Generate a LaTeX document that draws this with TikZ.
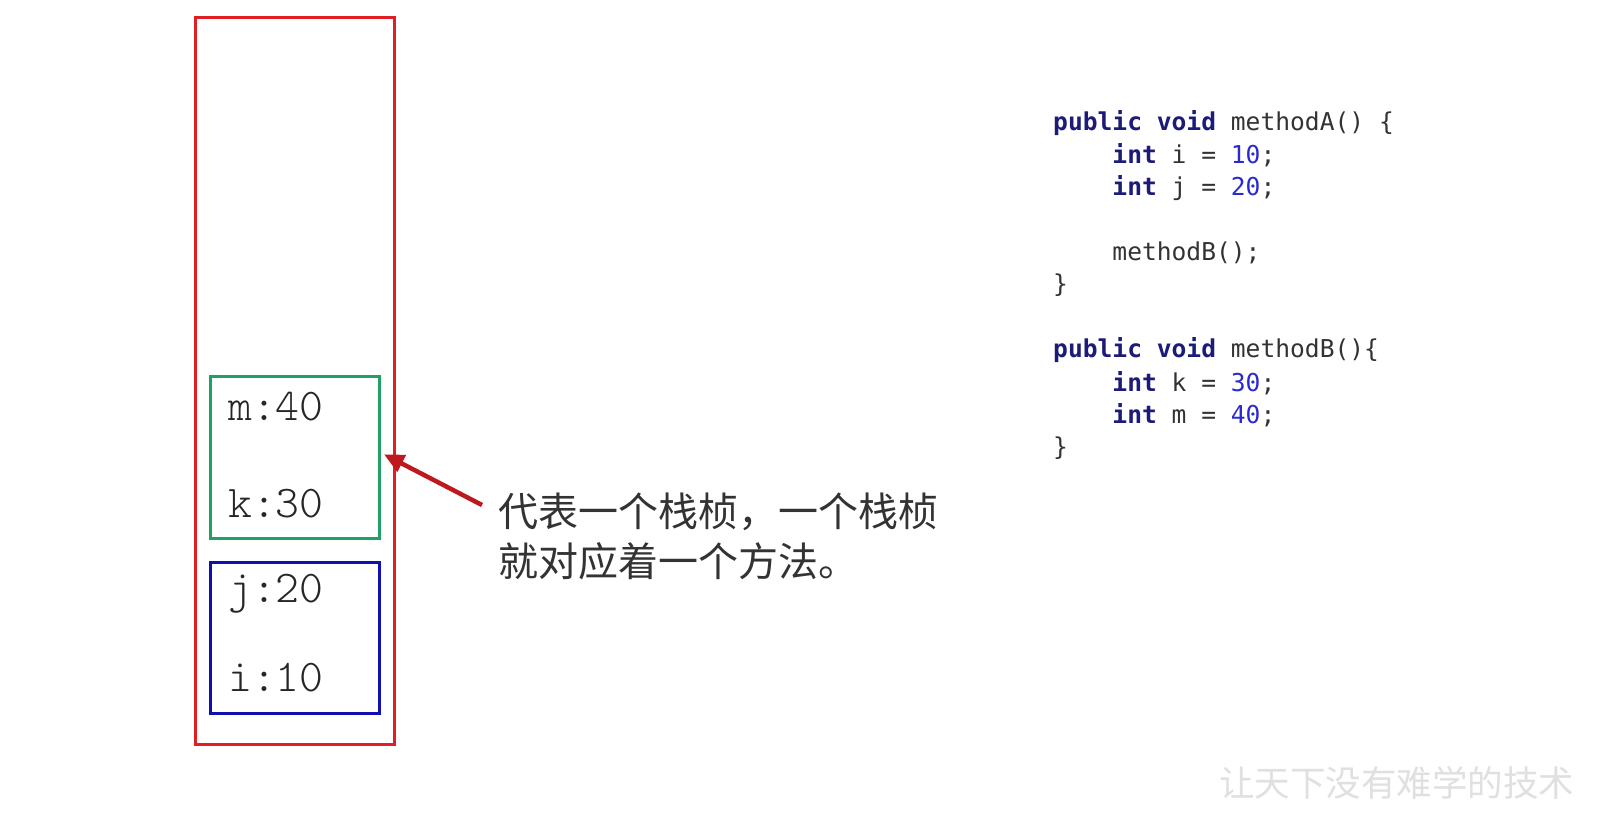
\documentclass[tikz,border=0pt]{standalone}
\usepackage{fontspec}
\setmonofont{DejaVu Sans Mono}
\newfontfamily\cjk{Noto Sans CJK SC}
\newfontfamily\varfont{lmmonolt10-regular.otf}
\usetikzlibrary{arrows.meta}
\definecolor{stackred}{HTML}{E01E24}
\definecolor{framegreen}{HTML}{1FA064}
\definecolor{frameblue}{HTML}{1010B0}
\definecolor{kwcol}{HTML}{1C1C78}
\definecolor{numcol}{HTML}{2A2AD0}
\definecolor{txtcol}{HTML}{333333}
\newcommand{\kw}[1]{\textcolor{kwcol}{\textbf{#1}}}
\newcommand{\nm}[1]{\textcolor{numcol}{#1}}
\tikzset{
  box/.style={draw, line width=3pt, inner sep=0pt},
  var/.style={anchor=west, inner sep=0pt, font=\varfont\fontsize{45.5}{45.5}\selectfont, text=black!85},
  code/.style={anchor=west, inner sep=0pt, font=\ttfamily\fontsize{24.6}{24.6}\selectfont, text=txtcol},
  note/.style={anchor=west, inner sep=0pt, align=left, font=\cjk\fontsize{40}{50}\selectfont, text=black!80},
  pointer/.style={draw=stackred!85!black, line width=4.5pt, -{Triangle[length=20pt,width=18pt]}}
}
\begin{document}
\begin{tikzpicture}[x=1pt,y=-1pt]
\useasboundingbox[fill=white] (0,0) rectangle (1604,813);
% stack and frames
\node[box, draw=stackred, minimum width=199.5pt, minimum height=727.4pt] (stack) at (295.2,381.1) {};
\node[box, draw=framegreen, minimum width=168.8pt, minimum height=161.6pt] (frameB) at (295.1,457.3) {};
\node[box, draw=frameblue, minimum width=168.8pt, minimum height=150.4pt] (frameA) at (295.1,637.8) {};
% variables
\node[var] (m) at (228,407) {m:40};
\node[var] (k) at (228,504) {k:30};
\node[var] (j) at (228,594) {j:20};
\node[var] (i) at (228,678) {i:10};
% note and pointer
\node[note] (note) at (498,536) {代表一个栈桢，一个栈桢\\就对应着一个方法。};
\coordinate (ptr) at (482,505);
\draw[pointer] (ptr) -- ([xshift=3pt,yshift=3pt]frameB.east);
% code
\node[code] (c1) at (1053,122.8) {\kw{public void} methodA() \{};
\node[code] (c2) at (1053,155.3) {\phantom{xxxx}\kw{int} i = \nm{10};};
\node[code] (c3) at (1053,187.8) {\phantom{xxxx}\kw{int} j = \nm{20};};
\node[code] (c5) at (1053,252.8) {\phantom{xxxx}methodB();};
\node[code] (c6) at (1053,285.3) {\}};
\node[code] (c8) at (1053,350.3) {\kw{public void} methodB()\{};
\node[code] (c9) at (1053,382.8) {\phantom{xxxx}\kw{int} k = \nm{30};};
\node[code] (c10) at (1053,415.3) {\phantom{xxxx}\kw{int} m = \nm{40};};
\node[code] (c11) at (1053,447.8) {\}};
% watermark
\node[anchor=west, inner sep=0pt, text=black!12, font=\cjk\fontsize{35.5}{35.5}\selectfont] (wm) at (1219,783) {让天下没有难学的技术};
\end{tikzpicture}
\end{document}
